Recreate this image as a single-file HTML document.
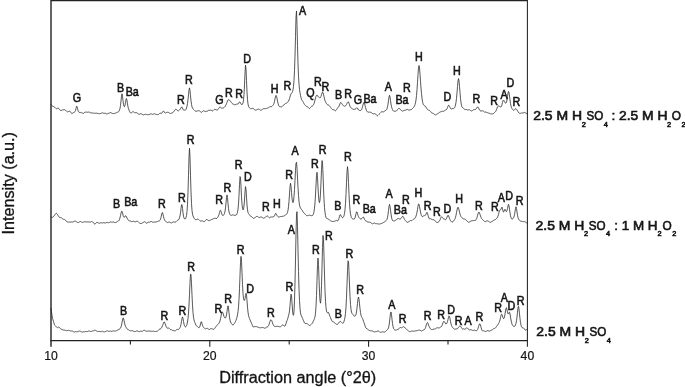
<!DOCTYPE html>
<html lang="en"><head><meta charset="utf-8"><title>XRD patterns</title>
<style>
html,body{margin:0;padding:0;background:#fff;}
body{width:685px;height:387px;overflow:hidden;}
svg{display:block;}
text{font-family:"Liberation Sans",Arial,Helvetica,sans-serif;fill:#141414;stroke:#141414;stroke-width:0.6;}
.pk{font-size:12.5px;text-anchor:middle;}
.tk{font-size:12.2px;text-anchor:middle;stroke-width:0.2;}
.ax{font-size:15.8px;stroke-width:0.3;}
.lg{font-size:12.7px;}
.sub{font-size:7.4px;}
.cv{fill:none;stroke:#2c2c2c;stroke-width:0.8;stroke-linejoin:round;stroke-linecap:round;}
.fr{fill:none;stroke:#222;stroke-width:1.4;}
</style></head><body>
<svg width="685" height="387" viewBox="0 0 685 387">
<rect x="0" y="0" width="685" height="387" fill="#fff"/>
<path class="cv" d="M51.0,104.67 L51.5,105.28 L52.0,105.82 L52.5,106.08 L53.0,106.21 L53.5,106.44 L54.0,106.79 L54.5,107.15 L55.0,107.57 L55.5,108.08 L56.0,108.57 L56.5,108.75 L57.0,108.59 L57.5,108.30 L58.0,108.14 L58.5,108.27 L59.0,108.76 L59.5,109.44 L60.0,110.04 L60.5,110.39 L61.0,110.58 L61.5,110.39 L62.0,110.16 L62.5,109.93 L63.0,109.81 L63.5,109.78 L64.0,109.73 L64.5,109.68 L65.0,109.79 L65.5,110.17 L66.0,110.69 L66.5,111.23 L67.0,111.70 L67.5,111.88 L68.0,111.80 L68.5,111.54 L69.0,111.26 L69.5,111.13 L70.0,111.30 L70.5,111.86 L71.0,112.63 L71.5,113.30 L72.0,113.41 L72.5,113.24 L73.0,112.93 L73.5,112.59 L74.0,112.33 L74.5,112.09 L75.0,111.64 L75.5,110.50 L76.0,108.49 L76.5,106.43 L77.0,106.30 L77.5,108.37 L78.0,110.52 L78.5,111.82 L79.0,112.33 L79.5,112.40 L80.0,112.38 L80.5,112.44 L81.0,112.60 L81.5,112.78 L82.0,112.97 L82.5,113.15 L83.0,113.32 L83.5,113.32 L84.0,113.00 L84.5,112.51 L85.0,112.22 L85.5,112.04 L86.0,112.11 L86.5,112.20 L87.0,112.24 L87.5,112.23 L88.0,112.18 L88.5,112.09 L89.0,111.97 L89.5,112.23 L90.0,112.58 L90.5,112.86 L91.0,112.87 L91.5,112.76 L92.0,112.84 L92.5,113.09 L93.0,113.25 L93.5,113.19 L94.0,113.07 L94.5,113.11 L95.0,113.26 L95.5,113.27 L96.0,113.21 L96.5,113.17 L97.0,113.23 L97.5,113.34 L98.0,113.49 L98.5,113.64 L99.0,113.72 L99.5,113.69 L100.0,113.61 L100.5,113.51 L101.0,113.34 L101.5,113.08 L102.0,112.85 L102.5,112.81 L103.0,113.01 L103.5,113.24 L104.0,113.32 L104.5,113.25 L105.0,113.18 L105.5,113.31 L106.0,113.64 L106.5,113.92 L107.0,113.93 L107.5,113.70 L108.0,113.45 L108.5,113.29 L109.0,113.18 L109.5,113.02 L110.0,112.75 L110.5,112.56 L111.0,112.65 L111.5,112.98 L112.0,113.32 L112.5,113.49 L113.0,113.51 L113.5,113.49 L114.0,113.47 L114.5,113.43 L115.0,113.34 L115.5,113.15 L116.0,112.90 L116.5,112.64 L117.0,112.42 L117.5,112.24 L118.0,112.04 L118.5,111.70 L119.0,111.12 L119.5,110.15 L120.0,108.40 L120.5,105.37 L121.0,100.94 L121.5,96.13 L122.0,93.81 L122.5,96.09 L123.0,100.61 L123.5,104.37 L124.0,106.37 L124.5,106.59 L125.0,105.18 L125.5,102.46 L126.0,99.45 L126.5,98.43 L127.0,100.54 L127.5,103.89 L128.0,106.74 L128.5,108.72 L129.0,110.14 L129.5,111.30 L130.0,112.25 L130.5,112.86 L131.0,113.04 L131.5,112.80 L132.0,112.38 L132.5,111.93 L133.0,111.69 L133.5,111.79 L134.0,112.17 L134.5,112.60 L135.0,112.80 L135.5,112.73 L136.0,112.60 L136.5,112.64 L137.0,112.93 L137.5,113.31 L138.0,113.69 L138.5,114.04 L139.0,114.29 L139.5,114.29 L140.0,114.03 L140.5,113.78 L141.0,113.73 L141.5,113.89 L142.0,114.18 L142.5,114.54 L143.0,114.84 L143.5,114.94 L144.0,114.81 L144.5,114.53 L145.0,114.26 L145.5,114.18 L146.0,114.32 L146.5,114.56 L147.0,114.72 L147.5,114.73 L148.0,114.65 L148.5,114.57 L149.0,114.50 L149.5,114.37 L150.0,114.17 L150.5,113.96 L151.0,113.85 L151.5,113.92 L152.0,114.14 L152.5,114.35 L153.0,114.32 L153.5,114.04 L154.0,113.76 L154.5,113.76 L155.0,113.96 L155.5,114.21 L156.0,114.35 L156.5,114.41 L157.0,114.50 L157.5,114.66 L158.0,114.70 L158.5,114.43 L159.0,113.94 L159.5,113.46 L160.0,113.17 L160.5,113.16 L161.0,113.35 L161.5,113.41 L162.0,113.00 L162.5,112.14 L163.0,111.25 L163.5,111.00 L164.0,111.61 L164.5,112.46 L165.0,112.99 L165.5,113.07 L166.0,112.80 L166.5,112.44 L167.0,112.26 L167.5,112.27 L168.0,112.32 L168.5,112.42 L169.0,112.67 L169.5,113.08 L170.0,113.44 L170.5,113.53 L171.0,113.37 L171.5,113.14 L172.0,112.95 L172.5,112.78 L173.0,112.50 L173.5,112.01 L174.0,111.34 L174.5,110.59 L175.0,109.85 L175.5,109.28 L176.0,109.12 L176.5,109.48 L177.0,110.10 L177.5,110.63 L178.0,110.89 L178.5,110.83 L179.0,110.51 L179.5,110.03 L180.0,109.46 L180.5,108.76 L181.0,107.87 L181.5,107.06 L182.0,107.09 L182.5,108.11 L183.0,109.36 L183.5,110.13 L184.0,110.31 L184.5,110.23 L185.0,110.17 L185.5,110.02 L186.0,109.39 L186.5,108.14 L187.0,106.25 L187.5,103.54 L188.0,99.69 L188.5,94.77 L189.0,89.90 L189.5,87.87 L190.0,90.64 L190.5,95.86 L191.0,100.72 L191.5,104.34 L192.0,106.79 L192.5,108.22 L193.0,108.91 L193.5,109.31 L194.0,109.76 L194.5,110.31 L195.0,110.84 L195.5,111.21 L196.0,111.34 L196.5,111.24 L197.0,111.07 L197.5,110.89 L198.0,110.74 L198.5,110.66 L199.0,110.71 L199.5,110.92 L200.0,111.32 L200.5,111.72 L201.0,112.13 L201.5,112.29 L202.0,112.07 L202.5,111.51 L203.0,110.89 L203.5,110.62 L204.0,110.80 L204.5,111.24 L205.0,111.54 L205.5,111.57 L206.0,111.42 L206.5,111.28 L207.0,111.23 L207.5,111.08 L208.0,110.70 L208.5,110.32 L209.0,110.22 L209.5,110.30 L210.0,110.33 L210.5,110.24 L211.0,110.17 L211.5,110.34 L212.0,110.73 L212.5,110.97 L213.0,110.75 L213.5,110.17 L214.0,109.61 L214.5,109.36 L215.0,109.41 L215.5,109.60 L216.0,109.77 L216.5,109.93 L217.0,110.03 L217.5,109.93 L218.0,109.49 L218.5,108.75 L219.0,107.94 L219.5,107.31 L220.0,107.02 L220.5,107.16 L221.0,107.64 L221.5,108.06 L222.0,108.20 L222.5,108.19 L223.0,108.07 L223.5,107.86 L224.0,107.55 L224.5,107.14 L225.0,106.58 L225.5,105.82 L226.0,104.85 L226.5,103.65 L227.0,102.28 L227.5,100.96 L228.0,100.00 L228.5,99.63 L229.0,99.77 L229.5,100.17 L230.0,100.66 L230.5,101.27 L231.0,102.02 L231.5,102.75 L232.0,103.32 L232.5,103.73 L233.0,104.03 L233.5,104.32 L234.0,104.61 L234.5,104.77 L235.0,104.75 L235.5,104.56 L236.0,104.40 L236.5,104.19 L237.0,104.03 L237.5,104.05 L238.0,104.04 L238.5,103.63 L239.0,102.72 L239.5,101.95 L240.0,102.09 L240.5,102.96 L241.0,103.94 L241.5,104.61 L242.0,104.68 L242.5,104.18 L243.0,102.94 L243.5,100.17 L244.0,94.48 L244.5,84.96 L245.0,73.03 L245.5,65.12 L246.0,69.00 L246.5,80.68 L247.0,91.92 L247.5,99.67 L248.0,104.03 L248.5,106.17 L249.0,107.21 L249.5,107.85 L250.0,108.29 L250.5,108.63 L251.0,108.77 L251.5,108.64 L252.0,108.41 L252.5,108.29 L253.0,108.34 L253.5,108.60 L254.0,109.10 L254.5,109.69 L255.0,110.08 L255.5,110.19 L256.0,110.11 L256.5,109.89 L257.0,109.63 L257.5,109.44 L258.0,109.29 L258.5,109.12 L259.0,109.11 L259.5,109.38 L260.0,109.83 L260.5,110.16 L261.0,110.21 L261.5,110.02 L262.0,109.69 L262.5,109.27 L263.0,108.88 L263.5,108.66 L264.0,108.62 L264.5,108.65 L265.0,108.68 L265.5,108.64 L266.0,108.51 L266.5,108.35 L267.0,108.20 L267.5,108.09 L268.0,107.95 L268.5,107.73 L269.0,107.37 L269.5,106.95 L270.0,106.64 L270.5,106.58 L271.0,106.68 L271.5,106.67 L272.0,106.37 L272.5,105.85 L273.0,105.24 L273.5,104.49 L274.0,103.30 L274.5,101.37 L275.0,98.85 L275.5,96.49 L276.0,95.38 L276.5,96.15 L277.0,98.30 L277.5,100.92 L278.0,103.33 L278.5,105.12 L279.0,106.16 L279.5,106.62 L280.0,106.87 L280.5,106.77 L281.0,106.80 L281.5,106.83 L282.0,106.65 L282.5,106.16 L283.0,105.55 L283.5,105.08 L284.0,104.78 L284.5,104.43 L285.0,103.97 L285.5,103.51 L286.0,103.24 L286.5,103.12 L287.0,102.82 L287.5,102.36 L288.0,101.79 L288.5,101.07 L289.0,100.00 L289.5,98.53 L290.0,96.82 L290.5,95.19 L291.0,93.98 L291.5,93.27 L292.0,92.70 L292.5,91.74 L293.0,89.81 L293.5,86.24 L294.0,80.24 L294.5,70.68 L295.0,56.24 L295.5,36.64 L296.0,17.02 L296.5,10.95 L297.0,24.58 L297.5,45.79 L298.0,63.77 L298.5,76.21 L299.0,84.18 L299.5,89.24 L300.0,92.74 L300.5,95.48 L301.0,97.65 L301.5,99.26 L302.0,100.36 L302.5,101.08 L303.0,101.69 L303.5,102.53 L304.0,103.65 L304.5,104.60 L305.0,105.16 L305.5,105.54 L306.0,105.97 L306.5,106.41 L307.0,106.69 L307.5,106.84 L308.0,107.11 L308.5,107.65 L309.0,108.35 L309.5,108.59 L310.0,108.21 L310.5,107.52 L311.0,106.85 L311.5,106.40 L312.0,106.14 L312.5,105.87 L313.0,105.46 L313.5,104.74 L314.0,103.59 L314.5,101.96 L315.0,100.02 L315.5,98.08 L316.0,96.42 L316.5,95.32 L317.0,95.05 L317.5,95.56 L318.0,96.36 L318.5,97.00 L319.0,97.40 L319.5,97.67 L320.0,97.90 L320.5,97.54 L321.0,96.45 L321.5,94.85 L322.0,93.16 L322.5,92.09 L323.0,92.43 L323.5,94.20 L324.0,96.59 L324.5,98.88 L325.0,100.63 L325.5,101.80 L326.0,102.71 L326.5,103.59 L327.0,104.34 L327.5,104.73 L328.0,104.79 L328.5,105.03 L329.0,105.41 L329.5,105.99 L330.0,106.61 L330.5,107.25 L331.0,107.94 L331.5,108.62 L332.0,109.16 L332.5,109.53 L333.0,109.86 L333.5,109.68 L334.0,109.80 L334.5,110.22 L335.0,110.68 L335.5,110.76 L336.0,110.35 L336.5,109.65 L337.0,108.88 L337.5,108.17 L338.0,107.54 L338.5,106.95 L339.0,106.19 L339.5,105.04 L340.0,103.65 L340.5,102.64 L341.0,102.52 L341.5,103.13 L342.0,103.93 L342.5,104.63 L343.0,105.26 L343.5,105.82 L344.0,106.16 L344.5,106.26 L345.0,106.11 L345.5,105.77 L346.0,105.25 L346.5,104.46 L347.0,103.39 L347.5,102.35 L348.0,101.76 L348.5,102.06 L349.0,103.23 L349.5,104.83 L350.0,106.31 L350.5,107.34 L351.0,107.88 L351.5,108.17 L352.0,108.47 L352.5,108.86 L353.0,109.22 L353.5,109.40 L354.0,109.38 L354.5,109.30 L355.0,109.21 L355.5,109.01 L356.0,108.53 L356.5,107.89 L357.0,107.60 L357.5,108.09 L358.0,109.08 L358.5,109.96 L359.0,110.40 L359.5,110.44 L360.0,110.42 L360.5,110.50 L361.0,110.39 L361.5,109.77 L362.0,108.51 L362.5,106.77 L363.0,104.79 L363.5,102.99 L364.0,102.30 L364.5,103.31 L365.0,105.31 L365.5,107.37 L366.0,109.14 L366.5,110.50 L367.0,111.39 L367.5,111.91 L368.0,112.13 L368.5,112.19 L369.0,112.12 L369.5,112.08 L370.0,112.12 L370.5,112.24 L371.0,112.44 L371.5,112.74 L372.0,113.12 L372.5,113.48 L373.0,113.72 L373.5,113.79 L374.0,113.74 L374.5,113.64 L375.0,113.66 L375.5,113.93 L376.0,114.43 L376.5,115.04 L377.0,115.61 L377.5,115.83 L378.0,115.44 L378.5,114.88 L379.0,114.34 L379.5,113.85 L380.0,113.36 L380.5,112.83 L381.0,112.23 L381.5,111.74 L382.0,111.59 L382.5,111.72 L383.0,111.88 L383.5,111.88 L384.0,111.64 L384.5,111.19 L385.0,110.79 L385.5,110.51 L386.0,110.29 L386.5,109.77 L387.0,108.59 L387.5,106.71 L388.0,104.13 L388.5,100.72 L389.0,97.06 L389.5,95.24 L390.0,96.94 L390.5,100.61 L391.0,104.08 L391.5,106.61 L392.0,108.37 L392.5,109.65 L393.0,110.55 L393.5,111.07 L394.0,111.28 L394.5,111.31 L395.0,111.26 L395.5,111.20 L396.0,111.10 L396.5,110.84 L397.0,110.32 L397.5,109.62 L398.0,108.94 L398.5,108.47 L399.0,108.36 L399.5,108.59 L400.0,109.02 L400.5,109.56 L401.0,110.14 L401.5,110.64 L402.0,110.96 L402.5,111.07 L403.0,110.95 L403.5,110.68 L404.0,110.46 L404.5,110.37 L405.0,110.30 L405.5,110.18 L406.0,109.96 L406.5,109.65 L407.0,109.42 L407.5,109.43 L408.0,109.69 L408.5,109.98 L409.0,110.10 L409.5,110.03 L410.0,109.88 L410.5,109.79 L411.0,109.74 L411.5,109.53 L412.0,109.02 L412.5,108.41 L413.0,107.92 L413.5,107.48 L414.0,106.84 L414.5,105.91 L415.0,104.63 L415.5,102.77 L416.0,99.94 L416.5,95.64 L417.0,89.65 L417.5,82.26 L418.0,74.41 L418.5,67.99 L419.0,65.46 L419.5,67.98 L420.0,74.09 L420.5,81.31 L421.0,88.02 L421.5,93.65 L422.0,98.15 L422.5,101.49 L423.0,103.66 L423.5,104.85 L424.0,105.44 L424.5,105.79 L425.0,106.01 L425.5,106.38 L426.0,107.14 L426.5,108.02 L427.0,108.83 L427.5,109.42 L428.0,109.84 L428.5,110.13 L429.0,110.33 L429.5,110.51 L430.0,110.82 L430.5,111.38 L431.0,112.10 L431.5,112.73 L432.0,113.05 L432.5,113.16 L433.0,113.28 L433.5,113.55 L434.0,113.95 L434.5,114.41 L435.0,114.81 L435.5,114.91 L436.0,114.66 L436.5,114.40 L437.0,114.10 L437.5,113.78 L438.0,113.48 L438.5,113.17 L439.0,112.77 L439.5,112.37 L440.0,112.09 L440.5,111.88 L441.0,111.64 L441.5,111.40 L442.0,111.23 L442.5,111.19 L443.0,111.29 L443.5,111.38 L444.0,111.16 L444.5,110.70 L445.0,110.27 L445.5,110.04 L446.0,109.89 L446.5,109.52 L447.0,108.74 L447.5,107.56 L448.0,106.20 L448.5,105.26 L449.0,105.35 L449.5,106.26 L450.0,107.43 L450.5,108.46 L451.0,109.03 L451.5,108.98 L452.0,108.61 L452.5,108.45 L453.0,108.57 L453.5,108.66 L454.0,108.42 L454.5,107.78 L455.0,106.71 L455.5,105.03 L456.0,102.37 L456.5,98.36 L457.0,92.94 L457.5,86.64 L458.0,81.00 L458.5,78.58 L459.0,80.86 L459.5,86.35 L460.0,92.68 L460.5,98.37 L461.0,102.69 L461.5,105.45 L462.0,106.95 L462.5,107.66 L463.0,108.05 L463.5,108.41 L464.0,108.83 L464.5,109.23 L465.0,109.51 L465.5,109.57 L466.0,109.49 L466.5,109.52 L467.0,109.77 L467.5,110.01 L468.0,110.03 L468.5,109.84 L469.0,109.67 L469.5,109.71 L470.0,110.02 L470.5,110.48 L471.0,110.85 L471.5,110.99 L472.0,110.91 L472.5,110.57 L473.0,110.06 L473.5,109.66 L474.0,109.58 L474.5,109.65 L475.0,109.60 L475.5,109.38 L476.0,109.00 L476.5,108.38 L477.0,107.58 L477.5,107.01 L478.0,107.10 L478.5,107.87 L479.0,108.92 L479.5,109.88 L480.0,110.56 L480.5,110.94 L481.0,111.03 L481.5,110.91 L482.0,110.74 L482.5,110.71 L483.0,110.89 L483.5,111.25 L484.0,111.74 L484.5,112.05 L485.0,112.09 L485.5,112.05 L486.0,112.14 L486.5,112.32 L487.0,112.49 L487.5,112.65 L488.0,112.87 L488.5,113.10 L489.0,113.23 L489.5,113.30 L490.0,113.50 L490.5,113.81 L491.0,113.92 L491.5,113.93 L492.0,113.92 L492.5,113.93 L493.0,113.85 L493.5,113.54 L494.0,113.06 L494.5,112.61 L495.0,112.21 L495.5,111.68 L496.0,110.81 L496.5,109.53 L497.0,108.18 L497.5,107.06 L498.0,106.24 L498.5,105.83 L499.0,105.95 L499.5,106.37 L500.0,106.78 L500.5,107.03 L501.0,106.90 L501.5,106.13 L502.0,104.60 L502.5,102.48 L503.0,100.55 L503.5,99.99 L504.0,100.74 L504.5,101.80 L505.0,102.67 L505.5,103.10 L506.0,103.00 L506.5,102.03 L507.0,99.64 L507.5,96.31 L508.0,93.03 L508.5,91.38 L509.0,92.63 L509.5,96.01 L510.0,99.89 L510.5,103.37 L511.0,106.03 L511.5,107.74 L512.0,108.70 L512.5,109.33 L513.0,109.93 L513.5,110.34 L514.0,110.28 L514.5,109.84 L515.0,109.23 L515.5,108.76 L516.0,108.72 L516.5,109.22 L517.0,109.99 L517.5,110.83 L518.0,111.67 L518.5,112.42 L519.0,112.99 L519.5,113.28 L520.0,113.36 L520.5,113.34 L521.0,113.23 L521.5,113.05 L522.0,112.94 L522.5,112.93 L523.0,112.93 L523.5,112.81 L524.0,112.57 L524.5,112.39 L525.0,112.50 L525.5,112.86 L526.0,113.24 L526.5,113.47 L527.0,113.64 L527.5,113.83"/>
<path class="cv" d="M51.0,216.95 L51.5,217.13 L52.0,217.32 L52.5,217.36 L53.0,217.14 L53.5,216.67 L54.0,216.03 L54.5,215.29 L55.0,214.52 L55.5,213.83 L56.0,213.38 L56.5,213.34 L57.0,213.78 L57.5,214.56 L58.0,215.45 L58.5,216.29 L59.0,216.95 L59.5,217.35 L60.0,217.54 L60.5,217.61 L61.0,217.60 L61.5,217.86 L62.0,218.26 L62.5,218.74 L63.0,219.11 L63.5,219.31 L64.0,219.41 L64.5,219.47 L65.0,219.66 L65.5,220.14 L66.0,220.82 L66.5,221.45 L67.0,221.85 L67.5,222.01 L68.0,222.08 L68.5,222.11 L69.0,222.09 L69.5,222.04 L70.0,222.03 L70.5,222.06 L71.0,221.95 L71.5,221.93 L72.0,221.97 L72.5,222.00 L73.0,221.92 L73.5,221.69 L74.0,221.43 L74.5,221.18 L75.0,220.97 L75.5,221.13 L76.0,221.44 L76.5,221.80 L77.0,222.13 L77.5,222.42 L78.0,222.59 L78.5,222.54 L79.0,222.23 L79.5,221.80 L80.0,221.51 L80.5,221.51 L81.0,221.76 L81.5,222.08 L82.0,222.38 L82.5,222.43 L83.0,222.21 L83.5,221.96 L84.0,221.89 L84.5,221.88 L85.0,221.83 L85.5,221.77 L86.0,221.81 L86.5,221.91 L87.0,221.97 L87.5,221.95 L88.0,221.94 L88.5,221.95 L89.0,221.96 L89.5,221.98 L90.0,222.07 L90.5,222.08 L91.0,221.87 L91.5,221.54 L92.0,221.52 L92.5,221.81 L93.0,222.34 L93.5,222.96 L94.0,223.61 L94.5,223.96 L95.0,224.04 L95.5,223.70 L96.0,223.06 L96.5,222.46 L97.0,222.26 L97.5,222.49 L98.0,222.86 L98.5,223.12 L99.0,223.21 L99.5,223.17 L100.0,223.01 L100.5,222.82 L101.0,222.71 L101.5,222.82 L102.0,223.01 L102.5,223.02 L103.0,222.83 L103.5,222.65 L104.0,222.69 L104.5,222.89 L105.0,223.03 L105.5,222.96 L106.0,222.77 L106.5,222.60 L107.0,222.49 L107.5,222.48 L108.0,222.63 L108.5,222.79 L109.0,222.73 L109.5,222.42 L110.0,222.04 L110.5,221.89 L111.0,221.97 L111.5,222.16 L112.0,222.23 L112.5,222.10 L113.0,221.96 L113.5,222.01 L114.0,222.21 L114.5,222.40 L115.0,222.52 L115.5,222.55 L116.0,222.42 L116.5,222.12 L117.0,221.80 L117.5,221.39 L118.0,221.19 L118.5,221.01 L119.0,220.49 L119.5,219.39 L120.0,217.72 L120.5,215.65 L121.0,213.37 L121.5,211.50 L122.0,211.23 L122.5,212.80 L123.0,214.99 L123.5,216.68 L124.0,217.31 L124.5,217.19 L125.0,216.44 L125.5,215.76 L126.0,215.96 L126.5,216.95 L127.0,218.03 L127.5,218.95 L128.0,219.73 L128.5,220.36 L129.0,220.74 L129.5,220.89 L130.0,220.98 L130.5,221.06 L131.0,221.32 L131.5,221.61 L132.0,221.73 L132.5,221.59 L133.0,221.32 L133.5,221.15 L134.0,221.29 L134.5,221.64 L135.0,221.86 L135.5,221.80 L136.0,221.58 L136.5,221.35 L137.0,221.22 L137.5,221.32 L138.0,221.69 L138.5,222.19 L139.0,222.67 L139.5,223.05 L140.0,223.32 L140.5,223.53 L141.0,223.61 L141.5,223.41 L142.0,223.07 L142.5,222.81 L143.0,222.58 L143.5,222.24 L144.0,221.88 L144.5,221.69 L145.0,221.79 L145.5,222.21 L146.0,222.80 L146.5,223.21 L147.0,223.17 L147.5,222.73 L148.0,222.30 L148.5,222.16 L149.0,222.21 L149.5,222.19 L150.0,222.00 L150.5,221.73 L151.0,221.55 L151.5,221.55 L152.0,221.79 L152.5,222.14 L153.0,222.34 L153.5,222.26 L154.0,222.08 L154.5,222.03 L155.0,222.08 L155.5,222.07 L156.0,221.96 L156.5,221.85 L157.0,221.75 L157.5,221.57 L158.0,221.30 L158.5,221.06 L159.0,220.92 L159.5,220.77 L160.0,220.33 L160.5,219.28 L161.0,217.44 L161.5,214.96 L162.0,212.86 L162.5,212.63 L163.0,214.26 L163.5,216.48 L164.0,218.43 L164.5,219.84 L165.0,220.73 L165.5,221.27 L166.0,221.64 L166.5,221.95 L167.0,222.29 L167.5,222.55 L168.0,222.52 L168.5,222.23 L169.0,221.97 L169.5,221.99 L170.0,222.27 L170.5,222.65 L171.0,222.91 L171.5,222.93 L172.0,222.67 L172.5,222.28 L173.0,221.99 L173.5,221.93 L174.0,221.99 L174.5,222.08 L175.0,222.16 L175.5,222.13 L176.0,221.84 L176.5,221.30 L177.0,220.74 L177.5,220.40 L178.0,220.21 L178.5,219.82 L179.0,219.03 L179.5,217.88 L180.0,215.95 L180.5,212.86 L181.0,208.67 L181.5,204.82 L182.0,204.55 L182.5,208.36 L183.0,212.88 L183.5,216.18 L184.0,218.04 L184.5,218.86 L185.0,219.09 L185.5,218.75 L186.0,217.63 L186.5,215.47 L187.0,211.50 L187.5,204.30 L188.0,192.31 L188.5,175.29 L189.0,157.04 L189.5,148.24 L190.0,157.08 L190.5,175.19 L191.0,191.93 L191.5,203.60 L192.0,210.41 L192.5,213.96 L193.0,215.86 L193.5,217.08 L194.0,218.00 L194.5,218.80 L195.0,219.43 L195.5,219.76 L196.0,219.76 L196.5,219.57 L197.0,219.33 L197.5,219.17 L198.0,219.19 L198.5,219.40 L199.0,219.79 L199.5,220.31 L200.0,220.82 L200.5,221.16 L201.0,221.10 L201.5,220.83 L202.0,220.70 L202.5,220.86 L203.0,221.20 L203.5,221.56 L204.0,221.77 L204.5,221.55 L205.0,221.04 L205.5,220.35 L206.0,219.74 L206.5,219.49 L207.0,219.58 L207.5,219.86 L208.0,220.22 L208.5,220.53 L209.0,220.68 L209.5,220.64 L210.0,220.44 L210.5,220.12 L211.0,219.74 L211.5,219.43 L212.0,219.30 L212.5,219.23 L213.0,219.02 L213.5,218.67 L214.0,218.40 L214.5,218.28 L215.0,218.26 L215.5,218.32 L216.0,218.45 L216.5,218.48 L217.0,218.22 L217.5,217.65 L218.0,216.85 L218.5,215.83 L219.0,214.39 L219.5,212.49 L220.0,210.71 L220.5,210.26 L221.0,211.48 L221.5,213.19 L222.0,214.55 L222.5,215.35 L223.0,215.55 L223.5,215.26 L224.0,214.56 L224.5,213.35 L225.0,211.31 L225.5,207.94 L226.0,202.99 L226.5,197.53 L227.0,194.93 L227.5,197.78 L228.0,203.44 L228.5,208.52 L229.0,211.84 L229.5,213.63 L230.0,214.59 L230.5,215.16 L231.0,215.43 L231.5,215.39 L232.0,215.08 L232.5,214.83 L233.0,214.83 L233.5,215.04 L234.0,215.26 L234.5,215.33 L235.0,215.30 L235.5,215.28 L236.0,215.15 L236.5,214.72 L237.0,213.82 L237.5,212.21 L238.0,209.21 L238.5,203.83 L239.0,195.35 L239.5,184.71 L240.0,176.51 L240.5,177.58 L241.0,186.71 L241.5,196.76 L242.0,204.11 L242.5,208.31 L243.0,209.93 L243.5,209.27 L244.0,206.06 L244.5,200.01 L245.0,192.05 L245.5,186.59 L246.0,189.21 L246.5,197.22 L247.0,204.85 L247.5,209.87 L248.0,212.46 L248.5,213.60 L249.0,214.22 L249.5,214.81 L250.0,215.58 L250.5,216.17 L251.0,216.43 L251.5,216.60 L252.0,216.94 L252.5,217.46 L253.0,218.01 L253.5,218.41 L254.0,218.51 L254.5,218.17 L255.0,217.57 L255.5,217.07 L256.0,216.75 L256.5,216.50 L257.0,216.34 L257.5,216.42 L258.0,216.76 L258.5,217.21 L259.0,217.54 L259.5,217.60 L260.0,217.35 L260.5,217.06 L261.0,216.93 L261.5,217.04 L262.0,217.28 L262.5,217.60 L263.0,217.97 L263.5,218.20 L264.0,218.13 L264.5,217.81 L265.0,217.44 L265.5,217.12 L266.0,216.77 L266.5,216.33 L267.0,215.97 L267.5,215.95 L268.0,216.37 L268.5,217.06 L269.0,217.64 L269.5,217.79 L270.0,217.54 L270.5,217.17 L271.0,216.95 L271.5,216.97 L272.0,217.07 L272.5,217.03 L273.0,216.86 L273.5,216.74 L274.0,216.60 L274.5,216.03 L275.0,214.81 L275.5,213.54 L276.0,213.47 L276.5,214.44 L277.0,215.41 L277.5,216.13 L278.0,216.72 L278.5,217.11 L279.0,217.13 L279.5,216.89 L280.0,216.68 L280.5,216.55 L281.0,216.54 L281.5,216.51 L282.0,216.43 L282.5,216.31 L283.0,216.23 L283.5,216.17 L284.0,216.01 L284.5,215.66 L285.0,215.25 L285.5,214.88 L286.0,214.59 L286.5,214.25 L287.0,213.60 L287.5,212.39 L288.0,210.27 L288.5,206.74 L289.0,201.29 L289.5,194.07 L290.0,186.74 L290.5,183.22 L291.0,186.15 L291.5,192.48 L292.0,198.20 L292.5,201.71 L293.0,202.69 L293.5,201.02 L294.0,196.55 L294.5,189.39 L295.0,180.14 L295.5,170.37 L296.0,163.19 L296.5,162.34 L297.0,168.36 L297.5,177.85 L298.0,187.43 L298.5,195.44 L299.0,201.25 L299.5,204.90 L300.0,206.91 L300.5,208.01 L301.0,208.79 L301.5,209.46 L302.0,210.01 L302.5,210.92 L303.0,211.82 L303.5,212.50 L304.0,212.94 L304.5,213.32 L305.0,213.88 L305.5,214.58 L306.0,215.17 L306.5,215.59 L307.0,215.77 L307.5,215.68 L308.0,215.55 L308.5,215.34 L309.0,215.16 L309.5,215.14 L310.0,215.29 L310.5,215.46 L311.0,215.59 L311.5,215.65 L312.0,215.72 L312.5,215.50 L313.0,214.88 L313.5,213.70 L314.0,211.63 L314.5,208.17 L315.0,202.79 L315.5,194.99 L316.0,185.06 L316.5,175.60 L317.0,172.30 L317.5,177.72 L318.0,187.18 L318.5,195.74 L319.0,201.19 L319.5,202.73 L320.0,200.08 L320.5,193.11 L321.0,182.30 L321.5,169.62 L322.0,160.56 L322.5,162.32 L323.0,174.00 L323.5,188.07 L324.0,199.67 L324.5,207.57 L325.0,212.47 L325.5,215.53 L326.0,217.45 L326.5,218.29 L327.0,218.56 L327.5,218.73 L328.0,219.00 L328.5,219.26 L329.0,219.51 L329.5,219.87 L330.0,220.33 L330.5,220.71 L331.0,220.99 L331.5,221.21 L332.0,221.37 L332.5,221.48 L333.0,221.50 L333.5,221.45 L334.0,221.35 L334.5,221.24 L335.0,221.08 L335.5,220.82 L336.0,220.52 L336.5,220.43 L337.0,220.60 L337.5,220.81 L338.0,220.65 L338.5,219.84 L339.0,218.31 L339.5,216.38 L340.0,214.86 L340.5,214.72 L341.0,215.72 L341.5,216.80 L342.0,217.44 L342.5,217.66 L343.0,217.47 L343.5,216.85 L344.0,215.68 L344.5,213.56 L345.0,209.76 L345.5,203.49 L346.0,194.33 L346.5,182.84 L347.0,171.73 L347.5,166.65 L348.0,171.53 L348.5,182.66 L349.0,194.27 L349.5,203.47 L350.0,209.80 L350.5,213.83 L351.0,216.30 L351.5,217.75 L352.0,218.46 L352.5,218.77 L353.0,218.95 L353.5,219.12 L354.0,219.17 L354.5,218.83 L355.0,217.82 L355.5,216.05 L356.0,213.79 L356.5,211.93 L357.0,211.87 L357.5,213.57 L358.0,215.40 L358.5,216.60 L359.0,217.42 L359.5,218.10 L360.0,218.69 L360.5,218.97 L361.0,218.99 L361.5,218.82 L362.0,218.43 L362.5,217.78 L363.0,217.11 L363.5,217.09 L364.0,218.06 L364.5,219.34 L365.0,220.28 L365.5,220.74 L366.0,220.95 L366.5,221.22 L367.0,221.60 L367.5,221.92 L368.0,222.04 L368.5,222.11 L369.0,222.15 L369.5,222.15 L370.0,222.21 L370.5,222.43 L371.0,222.79 L371.5,223.20 L372.0,223.58 L372.5,223.82 L373.0,223.75 L373.5,223.37 L374.0,223.00 L374.5,222.97 L375.0,223.26 L375.5,223.59 L376.0,223.72 L376.5,223.70 L377.0,223.70 L377.5,223.78 L378.0,223.87 L378.5,224.00 L379.0,224.08 L379.5,224.06 L380.0,223.94 L380.5,223.77 L381.0,223.60 L381.5,223.45 L382.0,223.28 L382.5,223.05 L383.0,222.77 L383.5,222.48 L384.0,222.20 L384.5,221.87 L385.0,221.50 L385.5,221.11 L386.0,220.69 L386.5,220.19 L387.0,219.33 L387.5,217.60 L388.0,214.60 L388.5,210.48 L389.0,206.32 L389.5,204.43 L390.0,206.30 L390.5,210.12 L391.0,213.88 L391.5,217.01 L392.0,219.31 L392.5,220.59 L393.0,220.99 L393.5,220.96 L394.0,220.85 L394.5,220.72 L395.0,220.54 L395.5,220.33 L396.0,220.09 L396.5,219.75 L397.0,219.23 L397.5,218.63 L398.0,218.34 L398.5,218.53 L399.0,218.82 L399.5,218.97 L400.0,218.98 L400.5,218.83 L401.0,218.46 L401.5,217.79 L402.0,217.03 L402.5,216.42 L403.0,216.38 L403.5,217.19 L404.0,218.34 L404.5,219.32 L405.0,220.07 L405.5,220.72 L406.0,221.30 L406.5,221.72 L407.0,222.02 L407.5,222.32 L408.0,222.41 L408.5,222.09 L409.0,221.53 L409.5,220.95 L410.0,220.57 L410.5,220.50 L411.0,220.62 L411.5,220.69 L412.0,220.53 L412.5,220.13 L413.0,219.61 L413.5,219.16 L414.0,218.92 L414.5,218.68 L415.0,218.18 L415.5,217.31 L416.0,216.13 L416.5,214.56 L417.0,212.32 L417.5,209.34 L418.0,206.14 L418.5,204.02 L419.0,204.20 L419.5,206.39 L420.0,209.27 L420.5,211.99 L421.0,214.23 L421.5,215.76 L422.0,216.48 L422.5,216.54 L423.0,216.26 L423.5,215.91 L424.0,215.68 L424.5,215.62 L425.0,215.58 L425.5,215.17 L426.0,214.16 L426.5,212.81 L427.0,212.24 L427.5,213.31 L428.0,215.17 L428.5,216.93 L429.0,218.26 L429.5,218.89 L430.0,218.89 L430.5,218.73 L431.0,218.81 L431.5,219.17 L432.0,219.49 L432.5,219.63 L433.0,219.65 L433.5,219.65 L434.0,219.76 L434.5,220.13 L435.0,220.72 L435.5,221.32 L436.0,221.86 L436.5,222.31 L437.0,222.61 L437.5,222.46 L438.0,222.23 L438.5,221.97 L439.0,221.59 L439.5,220.90 L440.0,219.84 L440.5,218.59 L441.0,217.44 L441.5,216.78 L442.0,216.99 L442.5,217.73 L443.0,218.45 L443.5,218.87 L444.0,219.03 L444.5,219.15 L445.0,219.47 L445.5,219.72 L446.0,219.45 L446.5,218.56 L447.0,217.27 L447.5,215.93 L448.0,215.20 L448.5,215.68 L449.0,216.99 L449.5,218.42 L450.0,219.64 L450.5,220.58 L451.0,221.29 L451.5,221.81 L452.0,222.15 L452.5,222.09 L453.0,221.69 L453.5,221.05 L454.0,220.34 L454.5,219.65 L455.0,218.79 L455.5,217.39 L456.0,215.28 L456.5,212.68 L457.0,210.07 L457.5,208.04 L458.0,207.23 L458.5,207.97 L459.0,209.77 L459.5,211.98 L460.0,214.08 L460.5,215.69 L461.0,216.70 L461.5,217.31 L462.0,217.80 L462.5,218.22 L463.0,218.61 L463.5,218.84 L464.0,218.91 L464.5,219.02 L465.0,219.27 L465.5,219.59 L466.0,219.92 L466.5,220.34 L467.0,220.95 L467.5,221.59 L468.0,222.04 L468.5,222.30 L469.0,222.18 L469.5,221.98 L470.0,221.65 L470.5,221.26 L471.0,220.99 L471.5,220.88 L472.0,220.79 L472.5,220.67 L473.0,220.60 L473.5,220.58 L474.0,220.51 L474.5,220.44 L475.0,220.43 L475.5,220.29 L476.0,219.80 L476.5,218.87 L477.0,217.44 L477.5,215.63 L478.0,213.77 L478.5,212.39 L479.0,212.06 L479.5,212.95 L480.0,214.47 L480.5,215.99 L481.0,217.31 L481.5,218.37 L482.0,219.12 L482.5,219.59 L483.0,219.98 L483.5,220.42 L484.0,220.95 L484.5,221.44 L485.0,221.72 L485.5,221.64 L486.0,221.30 L486.5,220.94 L487.0,220.78 L487.5,220.85 L488.0,221.05 L488.5,221.27 L489.0,221.60 L489.5,222.06 L490.0,222.47 L490.5,222.34 L491.0,222.02 L491.5,221.66 L492.0,221.35 L492.5,221.12 L493.0,220.85 L493.5,220.43 L494.0,220.02 L494.5,219.84 L495.0,219.75 L495.5,219.46 L496.0,218.97 L496.5,218.52 L497.0,218.01 L497.5,217.23 L498.0,216.08 L498.5,214.47 L499.0,212.35 L499.5,210.36 L500.0,209.64 L500.5,209.78 L501.0,209.31 L501.5,207.88 L502.0,207.11 L502.5,208.73 L503.0,211.03 L503.5,212.09 L504.0,211.60 L504.5,210.03 L505.0,209.23 L505.5,210.27 L506.0,211.46 L506.5,211.56 L507.0,210.53 L507.5,208.46 L508.0,205.85 L508.5,204.31 L509.0,205.70 L509.5,209.22 L510.0,212.91 L510.5,215.84 L511.0,217.73 L511.5,218.75 L512.0,219.14 L512.5,218.96 L513.0,218.58 L513.5,217.89 L514.0,216.69 L514.5,214.68 L515.0,211.73 L515.5,208.39 L516.0,206.75 L516.5,208.49 L517.0,212.00 L517.5,215.22 L518.0,217.48 L518.5,218.90 L519.0,219.77 L519.5,220.37 L520.0,220.80 L520.5,221.09 L521.0,221.22 L521.5,221.21 L522.0,221.29 L522.5,221.51 L523.0,221.69 L523.5,221.68 L524.0,221.57 L524.5,221.57 L525.0,221.73 L525.5,222.03 L526.0,222.42 L526.5,222.79 L527.0,223.01 L527.5,223.10"/>
<path class="cv" d="M51.0,308.29 L51.5,311.90 L52.0,315.30 L52.5,318.43 L53.0,319.90 L53.5,321.46 L54.0,323.20 L54.5,324.99 L55.0,325.42 L55.5,325.87 L56.0,326.47 L56.5,327.09 L57.0,327.53 L57.5,327.65 L58.0,327.47 L58.5,327.12 L59.0,327.15 L59.5,327.60 L60.0,328.19 L60.5,328.69 L61.0,329.07 L61.5,329.37 L62.0,329.57 L62.5,329.69 L63.0,329.82 L63.5,329.99 L64.0,330.12 L64.5,330.16 L65.0,330.17 L65.5,330.32 L66.0,330.51 L66.5,330.68 L67.0,330.72 L67.5,330.58 L68.0,330.36 L68.5,330.24 L69.0,330.31 L69.5,330.53 L70.0,330.81 L70.5,331.01 L71.0,331.04 L71.5,330.98 L72.0,330.96 L72.5,331.07 L73.0,331.35 L73.5,331.77 L74.0,332.08 L74.5,332.06 L75.0,331.79 L75.5,331.60 L76.0,331.64 L76.5,331.77 L77.0,331.83 L77.5,331.73 L78.0,331.49 L78.5,331.23 L79.0,331.10 L79.5,331.08 L80.0,331.12 L80.5,331.26 L81.0,331.56 L81.5,331.93 L82.0,332.13 L82.5,332.03 L83.0,331.81 L83.5,331.76 L84.0,331.87 L84.5,331.87 L85.0,331.69 L85.5,331.52 L86.0,331.49 L86.5,331.57 L87.0,331.63 L87.5,331.54 L88.0,331.30 L88.5,331.04 L89.0,330.93 L89.5,331.05 L90.0,331.30 L90.5,331.50 L91.0,331.53 L91.5,331.37 L92.0,331.12 L92.5,330.95 L93.0,330.90 L93.5,330.80 L94.0,330.51 L94.5,330.23 L95.0,330.19 L95.5,330.39 L96.0,330.67 L96.5,330.93 L97.0,331.20 L97.5,331.38 L98.0,331.45 L98.5,331.48 L99.0,331.48 L99.5,331.43 L100.0,331.40 L100.5,331.49 L101.0,331.66 L101.5,331.67 L102.0,331.45 L102.5,331.25 L103.0,331.41 L103.5,331.80 L104.0,332.01 L104.5,331.91 L105.0,331.69 L105.5,331.54 L106.0,331.35 L106.5,331.08 L107.0,330.85 L107.5,330.80 L108.0,330.99 L108.5,331.29 L109.0,331.46 L109.5,331.36 L110.0,331.09 L110.5,330.97 L111.0,331.14 L111.5,331.39 L112.0,331.38 L112.5,331.12 L113.0,330.89 L113.5,330.86 L114.0,330.93 L114.5,331.01 L115.0,331.12 L115.5,331.06 L116.0,330.94 L116.5,330.72 L117.0,330.44 L117.5,330.16 L118.0,329.91 L118.5,329.65 L119.0,329.46 L119.5,329.14 L120.0,328.68 L120.5,328.00 L121.0,326.92 L121.5,325.18 L122.0,322.68 L122.5,319.88 L123.0,317.96 L123.5,318.18 L124.0,320.29 L124.5,322.87 L125.0,324.95 L125.5,326.31 L126.0,327.22 L126.5,328.06 L127.0,328.84 L127.5,329.31 L128.0,329.51 L128.5,329.70 L129.0,330.08 L129.5,330.50 L130.0,330.76 L130.5,330.85 L131.0,330.82 L131.5,330.72 L132.0,330.63 L132.5,330.69 L133.0,330.92 L133.5,331.25 L134.0,331.42 L134.5,331.53 L135.0,331.55 L135.5,331.48 L136.0,331.30 L136.5,331.03 L137.0,330.83 L137.5,330.89 L138.0,331.18 L138.5,331.51 L139.0,331.67 L139.5,331.58 L140.0,331.34 L140.5,331.18 L141.0,331.19 L141.5,331.31 L142.0,331.40 L142.5,331.25 L143.0,330.85 L143.5,330.43 L144.0,330.23 L144.5,330.30 L145.0,330.54 L145.5,330.92 L146.0,331.23 L146.5,331.28 L147.0,331.14 L147.5,331.05 L148.0,331.08 L148.5,331.10 L149.0,331.07 L149.5,331.10 L150.0,331.20 L150.5,331.24 L151.0,331.23 L151.5,331.24 L152.0,331.30 L152.5,331.27 L153.0,331.14 L153.5,331.06 L154.0,331.23 L154.5,331.55 L155.0,331.54 L155.5,331.46 L156.0,331.40 L156.5,331.37 L157.0,331.26 L157.5,331.02 L158.0,330.65 L158.5,330.16 L159.0,329.58 L159.5,329.21 L160.0,329.06 L160.5,328.92 L161.0,328.55 L161.5,327.85 L162.0,326.87 L162.5,325.68 L163.0,324.34 L163.5,322.98 L164.0,322.05 L164.5,322.15 L165.0,323.32 L165.5,324.87 L166.0,326.22 L166.5,327.27 L167.0,327.97 L167.5,328.23 L168.0,328.15 L168.5,328.03 L169.0,328.15 L169.5,328.60 L170.0,329.18 L170.5,329.53 L171.0,329.64 L171.5,329.77 L172.0,330.05 L172.5,330.38 L173.0,330.62 L173.5,330.68 L174.0,330.66 L174.5,330.70 L175.0,330.77 L175.5,330.70 L176.0,330.21 L176.5,329.74 L177.0,329.47 L177.5,329.39 L178.0,329.42 L178.5,329.38 L179.0,329.10 L179.5,328.52 L180.0,327.66 L180.5,326.37 L181.0,324.31 L181.5,321.39 L182.0,318.31 L182.5,316.92 L183.0,318.48 L183.5,321.45 L184.0,324.04 L184.5,325.75 L185.0,326.65 L185.5,326.89 L186.0,326.59 L186.5,325.68 L187.0,324.22 L187.5,322.00 L188.0,318.54 L188.5,313.10 L189.0,305.02 L189.5,294.27 L190.0,282.43 L190.5,274.06 L191.0,274.76 L191.5,283.77 L192.0,295.25 L192.5,305.22 L193.0,312.48 L193.5,317.16 L194.0,319.92 L194.5,321.61 L195.0,322.89 L195.5,324.05 L196.0,325.24 L196.5,325.92 L197.0,326.24 L197.5,326.58 L198.0,327.17 L198.5,327.71 L199.0,327.79 L199.5,327.32 L200.0,326.07 L200.5,324.04 L201.0,321.99 L201.5,321.76 L202.0,323.56 L202.5,325.44 L203.0,326.60 L203.5,327.27 L204.0,327.81 L204.5,328.32 L205.0,328.79 L205.5,328.95 L206.0,328.77 L206.5,328.45 L207.0,328.28 L207.5,328.36 L208.0,328.69 L208.5,329.12 L209.0,329.45 L209.5,329.46 L210.0,329.17 L210.5,328.81 L211.0,328.60 L211.5,328.59 L212.0,328.75 L212.5,329.03 L213.0,329.29 L213.5,329.35 L214.0,329.17 L214.5,328.64 L215.0,327.96 L215.5,327.27 L216.0,326.53 L216.5,325.82 L217.0,325.20 L217.5,324.67 L218.0,324.21 L218.5,323.79 L219.0,323.20 L219.5,322.28 L220.0,320.81 L220.5,318.77 L221.0,316.35 L221.5,313.99 L222.0,312.33 L222.5,312.07 L223.0,313.19 L223.5,314.94 L224.0,316.58 L224.5,317.64 L225.0,318.00 L225.5,317.94 L226.0,316.95 L226.5,314.83 L227.0,311.53 L227.5,307.80 L228.0,305.82 L228.5,307.94 L229.0,312.68 L229.5,317.14 L230.0,320.16 L230.5,321.91 L231.0,322.98 L231.5,323.80 L232.0,324.45 L232.5,324.81 L233.0,324.82 L233.5,324.66 L234.0,323.91 L234.5,323.21 L235.0,322.49 L235.5,321.50 L236.0,320.25 L236.5,318.83 L237.0,317.17 L237.5,314.97 L238.0,311.78 L238.5,306.92 L239.0,299.46 L239.5,288.75 L240.0,275.38 L240.5,262.50 L241.0,256.39 L241.5,261.19 L242.0,272.67 L242.5,284.45 L243.0,293.27 L243.5,298.40 L244.0,300.33 L244.5,300.24 L245.0,298.77 L245.5,295.66 L246.0,293.27 L246.5,295.06 L247.0,300.73 L247.5,307.04 L248.0,312.07 L248.5,315.34 L249.0,317.27 L249.5,318.61 L250.0,319.82 L250.5,320.96 L251.0,322.07 L251.5,323.25 L252.0,324.51 L252.5,325.76 L253.0,326.83 L253.5,326.90 L254.0,326.79 L254.5,326.66 L255.0,326.59 L255.5,326.59 L256.0,326.60 L256.5,326.62 L257.0,326.74 L257.5,326.99 L258.0,327.27 L258.5,327.44 L259.0,327.54 L259.5,327.67 L260.0,327.79 L260.5,327.84 L261.0,327.79 L261.5,327.65 L262.0,327.49 L262.5,327.40 L263.0,327.46 L263.5,327.69 L264.0,327.99 L264.5,328.18 L265.0,328.18 L265.5,327.98 L266.0,327.59 L266.5,327.20 L267.0,327.01 L267.5,326.90 L268.0,326.55 L268.5,325.76 L269.0,324.53 L269.5,322.97 L270.0,321.37 L270.5,320.11 L271.0,319.66 L271.5,320.18 L272.0,321.39 L272.5,322.87 L273.0,324.26 L273.5,325.34 L274.0,326.02 L274.5,326.38 L275.0,326.52 L275.5,326.55 L276.0,326.51 L276.5,326.40 L277.0,326.32 L277.5,326.32 L278.0,326.34 L278.5,326.33 L279.0,326.44 L279.5,326.76 L280.0,327.03 L280.5,326.89 L281.0,326.36 L281.5,325.72 L282.0,325.19 L282.5,324.92 L283.0,325.01 L283.5,325.42 L284.0,325.89 L284.5,326.14 L285.0,326.01 L285.5,325.15 L286.0,323.55 L286.5,321.92 L287.0,320.50 L287.5,319.24 L288.0,317.78 L288.5,315.54 L289.0,313.90 L289.5,310.91 L290.0,305.75 L290.5,299.05 L291.0,294.05 L291.5,295.58 L292.0,302.66 L292.5,309.98 L293.0,314.53 L293.5,315.27 L294.0,311.63 L294.5,300.14 L295.0,282.79 L295.5,259.88 L296.0,234.53 L296.5,214.86 L297.0,211.61 L297.5,226.39 L298.0,249.43 L298.5,271.53 L299.0,288.74 L299.5,300.62 L300.0,308.25 L300.5,312.84 L301.0,315.19 L301.5,315.86 L302.0,317.22 L302.5,318.32 L303.0,319.45 L303.5,320.63 L304.0,321.83 L304.5,322.94 L305.0,323.50 L305.5,323.56 L306.0,323.46 L306.5,323.42 L307.0,323.56 L307.5,323.87 L308.0,324.29 L308.5,324.78 L309.0,325.22 L309.5,325.50 L310.0,325.35 L310.5,325.00 L311.0,324.58 L311.5,324.16 L312.0,323.63 L312.5,322.86 L313.0,321.88 L313.5,320.88 L314.0,319.83 L314.5,318.53 L315.0,316.86 L315.5,313.25 L316.0,306.48 L316.5,295.44 L317.0,280.50 L317.5,265.30 L318.0,258.09 L318.5,264.57 L319.0,278.79 L319.5,292.25 L320.0,300.84 L320.5,303.17 L321.0,298.48 L321.5,285.66 L322.0,267.31 L322.5,247.51 L323.0,235.49 L323.5,239.74 L324.0,256.31 L324.5,275.12 L325.0,290.53 L325.5,301.18 L326.0,307.64 L326.5,311.08 L327.0,312.53 L327.5,312.72 L328.0,312.26 L328.5,312.41 L329.0,313.81 L329.5,315.19 L330.0,316.46 L330.5,317.68 L331.0,318.96 L331.5,320.20 L332.0,321.19 L332.5,321.59 L333.0,321.70 L333.5,321.92 L334.0,322.28 L334.5,322.72 L335.0,323.16 L335.5,323.57 L336.0,323.95 L336.5,324.31 L337.0,324.54 L337.5,324.40 L338.0,323.95 L338.5,323.30 L339.0,322.54 L339.5,321.80 L340.0,321.33 L340.5,321.45 L341.0,321.91 L341.5,322.41 L342.0,322.90 L342.5,323.26 L343.0,323.25 L343.5,322.77 L344.0,321.40 L344.5,319.66 L345.0,317.21 L345.5,313.30 L346.0,306.93 L346.5,297.31 L347.0,284.55 L347.5,270.61 L348.0,260.76 L348.5,261.44 L349.0,271.79 L349.5,285.00 L350.0,296.34 L350.5,304.37 L351.0,309.33 L351.5,312.05 L352.0,313.37 L352.5,314.05 L353.0,314.56 L353.5,315.21 L354.0,315.91 L354.5,316.18 L355.0,316.10 L355.5,315.64 L356.0,314.43 L356.5,311.99 L357.0,308.15 L357.5,303.34 L358.0,298.86 L358.5,297.01 L359.0,299.21 L359.5,303.88 L360.0,308.69 L360.5,312.50 L361.0,315.12 L361.5,316.73 L362.0,317.67 L362.5,318.27 L363.0,319.71 L363.5,321.27 L364.0,322.69 L364.5,324.07 L365.0,325.61 L365.5,327.28 L366.0,328.19 L366.5,328.49 L367.0,328.75 L367.5,329.08 L368.0,329.49 L368.5,329.90 L369.0,330.25 L369.5,330.51 L370.0,330.70 L370.5,330.80 L371.0,330.80 L371.5,330.79 L372.0,330.82 L372.5,331.00 L373.0,331.25 L373.5,331.55 L374.0,331.86 L374.5,331.97 L375.0,331.84 L375.5,331.67 L376.0,331.62 L376.5,331.60 L377.0,331.43 L377.5,331.11 L378.0,330.88 L378.5,330.99 L379.0,331.44 L379.5,331.96 L380.0,332.26 L380.5,332.34 L381.0,332.28 L381.5,332.13 L382.0,331.95 L382.5,331.81 L383.0,331.81 L383.5,331.93 L384.0,332.05 L384.5,332.02 L385.0,331.81 L385.5,331.46 L386.0,331.02 L386.5,330.51 L387.0,330.00 L387.5,329.56 L388.0,328.98 L388.5,327.81 L389.0,325.56 L389.5,321.98 L390.0,317.38 L390.5,313.18 L391.0,311.98 L391.5,314.74 L392.0,319.25 L392.5,323.38 L393.0,326.40 L393.5,328.30 L394.0,329.32 L394.5,329.80 L395.0,330.08 L395.5,330.14 L396.0,330.14 L396.5,329.95 L397.0,329.67 L397.5,329.44 L398.0,329.31 L398.5,329.11 L399.0,328.63 L399.5,327.90 L400.0,327.51 L400.5,327.49 L401.0,327.72 L401.5,327.85 L402.0,327.67 L402.5,327.28 L403.0,326.89 L403.5,326.68 L404.0,326.77 L404.5,327.18 L405.0,327.80 L405.5,328.39 L406.0,328.84 L406.5,329.27 L407.0,329.72 L407.5,330.14 L408.0,330.52 L408.5,330.96 L409.0,331.42 L409.5,331.66 L410.0,331.66 L410.5,331.48 L411.0,331.22 L411.5,331.02 L412.0,330.96 L412.5,331.06 L413.0,331.21 L413.5,331.24 L414.0,331.12 L414.5,331.01 L415.0,331.00 L415.5,330.96 L416.0,330.81 L416.5,330.69 L417.0,330.68 L417.5,330.57 L418.0,330.32 L418.5,330.12 L419.0,330.13 L419.5,330.21 L420.0,330.29 L420.5,330.50 L421.0,330.82 L421.5,330.99 L422.0,330.83 L422.5,330.49 L423.0,330.16 L423.5,329.92 L424.0,329.75 L424.5,329.51 L425.0,328.90 L425.5,327.69 L426.0,326.02 L426.5,324.30 L427.0,322.96 L427.5,322.54 L428.0,323.40 L428.5,324.95 L429.0,326.29 L429.5,327.28 L430.0,328.13 L430.5,328.87 L431.0,329.34 L431.5,329.55 L432.0,329.58 L432.5,329.49 L433.0,329.32 L433.5,329.15 L434.0,329.05 L434.5,329.00 L435.0,328.98 L435.5,328.84 L436.0,328.49 L436.5,328.07 L437.0,327.78 L437.5,327.69 L438.0,327.77 L438.5,327.94 L439.0,328.02 L439.5,327.81 L440.0,327.41 L440.5,327.08 L441.0,326.88 L441.5,326.49 L442.0,325.56 L442.5,324.17 L443.0,322.72 L443.5,321.61 L444.0,321.23 L444.5,321.73 L445.0,322.78 L445.5,323.76 L446.0,324.13 L446.5,323.81 L447.0,322.97 L447.5,321.57 L448.0,319.58 L448.5,317.30 L449.0,315.85 L449.5,316.43 L450.0,318.68 L450.5,321.39 L451.0,323.75 L451.5,325.46 L452.0,326.55 L452.5,327.32 L453.0,327.92 L453.5,328.43 L454.0,328.87 L454.5,329.18 L455.0,329.27 L455.5,329.13 L456.0,328.92 L456.5,328.88 L457.0,328.91 L457.5,328.68 L458.0,328.08 L458.5,327.27 L459.0,326.56 L459.5,326.11 L460.0,325.99 L460.5,326.23 L461.0,326.84 L461.5,327.76 L462.0,328.64 L462.5,329.08 L463.0,329.02 L463.5,328.84 L464.0,328.93 L464.5,329.15 L465.0,329.18 L465.5,328.89 L466.0,328.41 L466.5,327.98 L467.0,327.83 L467.5,328.10 L468.0,328.74 L468.5,329.44 L469.0,329.89 L469.5,329.98 L470.0,329.82 L470.5,329.69 L471.0,329.73 L471.5,329.92 L472.0,330.19 L472.5,330.40 L473.0,330.49 L473.5,330.36 L474.0,330.16 L474.5,330.14 L475.0,330.34 L475.5,330.59 L476.0,330.71 L476.5,330.66 L477.0,330.43 L477.5,329.73 L478.0,328.40 L478.5,326.74 L479.0,325.16 L479.5,324.02 L480.0,323.90 L480.5,325.15 L481.0,327.16 L481.5,329.06 L482.0,330.33 L482.5,330.88 L483.0,330.90 L483.5,330.78 L484.0,330.80 L484.5,331.08 L485.0,331.32 L485.5,331.49 L486.0,331.40 L486.5,331.11 L487.0,330.80 L487.5,330.64 L488.0,330.66 L488.5,330.85 L489.0,331.09 L489.5,331.18 L490.0,331.00 L490.5,330.65 L491.0,330.36 L491.5,330.14 L492.0,329.99 L492.5,329.71 L493.0,329.23 L493.5,328.76 L494.0,328.53 L494.5,328.46 L495.0,328.28 L495.5,327.85 L496.0,327.32 L496.5,326.58 L497.0,325.84 L497.5,325.23 L498.0,324.54 L498.5,323.58 L499.0,322.78 L499.5,321.57 L500.0,319.81 L500.5,317.65 L501.0,315.49 L501.5,314.19 L502.0,314.57 L502.5,316.15 L503.0,317.77 L503.5,318.63 L504.0,318.40 L504.5,316.87 L505.0,314.20 L505.5,310.92 L506.0,308.21 L506.5,307.75 L507.0,309.80 L507.5,312.45 L508.0,313.92 L508.5,313.68 L509.0,312.47 L509.5,312.15 L510.0,314.06 L510.5,317.10 L511.0,319.95 L511.5,322.24 L512.0,324.10 L512.5,325.23 L513.0,325.85 L513.5,326.23 L514.0,326.53 L514.5,326.44 L515.0,325.91 L515.5,324.93 L516.0,323.29 L516.5,320.72 L517.0,316.93 L517.5,312.13 L518.0,307.69 L518.5,306.27 L519.0,308.99 L519.5,313.87 L520.0,318.68 L520.5,322.48 L521.0,325.14 L521.5,326.78 L522.0,327.58 L522.5,327.76 L523.0,327.76 L523.5,327.94 L524.0,328.49 L524.5,329.27 L525.0,329.93 L525.5,330.14 L526.0,329.92 L526.5,329.62 L527.0,329.56 L527.5,329.80"/>
<g stroke="#222" fill="none" stroke-linecap="butt"><line x1="51.0" y1="0" x2="51.0" y2="346.70000000000005" stroke-width="1.4"/><line x1="50.3" y1="340.6" x2="527.925" y2="340.6" stroke-width="1.2"/><line x1="527.4" y1="0" x2="527.4" y2="346.70000000000005" stroke-width="1.05"/><line x1="51.0" y1="0.6" x2="527.4" y2="0.6" stroke-width="1.3"/><path d="M130.4,340.6 v3.8 M209.8,340.6 v6.1 M289.2,340.6 v3.8 M368.6,340.6 v6.1 M448.0,340.6 v3.8" stroke-width="1.1"/></g>
<text class="tk" x="51.0" y="360.1">10</text>
<text class="tk" x="209.8" y="360.1">20</text>
<text class="tk" x="368.6" y="360.1">30</text>
<text class="tk" x="527.4" y="360.1">40</text>
<text class="ax" x="219.2" y="382.9" textLength="157" lengthAdjust="spacingAndGlyphs">Diffraction angle (°2θ)</text>
<text class="ax" transform="translate(13.5,234.5) rotate(-90)" textLength="102.5" lengthAdjust="spacingAndGlyphs">Intensity (a.u.)</text>
<text class="lg" x="533.2" y="120.3" textLength="48.8" lengthAdjust="spacingAndGlyphs">2.5 M H</text><text class="sub" x="581.7" y="127.0">2</text><text class="lg" x="586.4" y="120.3" textLength="16.8" lengthAdjust="spacingAndGlyphs">SO</text><text class="sub" x="603.7" y="127.0">4</text><text class="lg" x="611.4" y="120.3" textLength="56.0" lengthAdjust="spacingAndGlyphs">: 2.5 M H</text><text class="sub" x="667.0" y="127.0">2</text><text class="lg" x="671.7" y="120.3" textLength="9.2" lengthAdjust="spacingAndGlyphs">O</text><text class="sub" x="681.5" y="127.0">2</text>
<text class="lg" x="535.6" y="229.5" textLength="48.8" lengthAdjust="spacingAndGlyphs">2.5 M H</text><text class="sub" x="584.1" y="236.2">2</text><text class="lg" x="588.8" y="229.5" textLength="16.8" lengthAdjust="spacingAndGlyphs">SO</text><text class="sub" x="606.1" y="236.2">4</text><text class="lg" x="614.3" y="229.5" textLength="43.2" lengthAdjust="spacingAndGlyphs">: 1 M H</text><text class="sub" x="657.5" y="236.2">2</text><text class="lg" x="662.4" y="229.5" textLength="9.2" lengthAdjust="spacingAndGlyphs">O</text><text class="sub" x="672.2" y="236.2">2</text>
<text class="lg" x="536.3" y="336.3" textLength="48.8" lengthAdjust="spacingAndGlyphs">2.5 M H</text><text class="sub" x="584.8" y="343.0">2</text><text class="lg" x="589.5" y="336.3" textLength="16.8" lengthAdjust="spacingAndGlyphs">SO</text><text class="sub" x="606.8" y="343.0">4</text>
<g class="pk">
<text transform="translate(77.0,101.5) scale(0.86,1)">G</text><text transform="translate(120.5,91.5) scale(0.86,1)">B</text><text transform="translate(132.2,95.6) scale(0.86,1)">Ba</text><text transform="translate(181.0,103.5) scale(0.86,1)">R</text><text transform="translate(189.0,84.0) scale(0.86,1)">R</text><text transform="translate(219.5,104.0) scale(0.86,1)">G</text><text transform="translate(229.0,96.5) scale(0.86,1)">R</text><text transform="translate(239.2,97.6) scale(0.86,1)">R</text><text transform="translate(247.1,62.6) scale(0.86,1)">D</text><text transform="translate(274.6,93.0) scale(0.86,1)">H</text><text transform="translate(287.5,90.0) scale(0.86,1)">R</text><text transform="translate(302.5,14.5) scale(0.86,1)">A</text><text transform="translate(310.5,96.5) scale(0.86,1)">Q</text><text transform="translate(318.0,85.5) scale(0.86,1)">R</text><text transform="translate(325.5,90.5) scale(0.86,1)">R</text><text transform="translate(338.6,98.6) scale(0.86,1)">B</text><text transform="translate(348.2,98.3) scale(0.86,1)">R</text><text transform="translate(358.0,104.4) scale(0.86,1)">G</text><text transform="translate(370.0,102.5) scale(0.86,1)">Ba</text><text transform="translate(388.4,91.0) scale(0.86,1)">A</text><text transform="translate(406.9,92.3) scale(0.86,1)">R</text><text transform="translate(402.0,104.0) scale(0.86,1)">Ba</text><text transform="translate(419.0,61.0) scale(0.86,1)">H</text><text transform="translate(447.5,100.5) scale(0.86,1)">D</text><text transform="translate(457.0,75.3) scale(0.86,1)">H</text><text transform="translate(476.5,102.5) scale(0.86,1)">R</text><text transform="translate(494.2,104.6) scale(0.86,1)">R</text><text transform="translate(504.0,99.0) scale(0.86,1)">A</text><text transform="translate(510.5,87.0) scale(0.86,1)">D</text><text transform="translate(516.5,106.0) scale(0.86,1)">R</text><text transform="translate(116.6,207.8) scale(0.86,1)">B</text><text transform="translate(130.7,206.1) scale(0.86,1)">Ba</text><text transform="translate(162.0,207.8) scale(0.86,1)">R</text><text transform="translate(182.0,201.9) scale(0.86,1)">R</text><text transform="translate(190.7,143.5) scale(0.86,1)">R</text><text transform="translate(219.2,203.6) scale(0.86,1)">R</text><text transform="translate(227.4,192.1) scale(0.86,1)">R</text><text transform="translate(238.6,168.7) scale(0.86,1)">R</text><text transform="translate(247.9,180.9) scale(0.86,1)">D</text><text transform="translate(265.9,210.8) scale(0.86,1)">R</text><text transform="translate(276.9,207.8) scale(0.86,1)">H</text><text transform="translate(289.1,178.6) scale(0.86,1)">R</text><text transform="translate(295.1,155.2) scale(0.86,1)">A</text><text transform="translate(315.0,168.0) scale(0.86,1)">R</text><text transform="translate(322.7,153.6) scale(0.86,1)">R</text><text transform="translate(337.7,209.6) scale(0.86,1)">B</text><text transform="translate(348.0,161.0) scale(0.86,1)">R</text><text transform="translate(356.4,204.3) scale(0.86,1)">R</text><text transform="translate(369.2,212.9) scale(0.86,1)">Ba</text><text transform="translate(389.0,198.0) scale(0.86,1)">A</text><text transform="translate(400.3,213.6) scale(0.86,1)">Ba</text><text transform="translate(405.9,203.6) scale(0.86,1)">R</text><text transform="translate(418.3,197.2) scale(0.86,1)">H</text><text transform="translate(427.6,209.6) scale(0.86,1)">R</text><text transform="translate(437.0,215.9) scale(0.86,1)">R</text><text transform="translate(447.5,212.9) scale(0.86,1)">D</text><text transform="translate(459.2,203.1) scale(0.86,1)">H</text><text transform="translate(479.0,209.6) scale(0.86,1)">R</text><text transform="translate(494.8,210.8) scale(0.86,1)">R</text><text transform="translate(501.4,201.9) scale(0.86,1)">A</text><text transform="translate(509.1,200.2) scale(0.86,1)">D</text><text transform="translate(519.6,204.9) scale(0.86,1)">R</text><text transform="translate(123.6,315.4) scale(0.86,1)">B</text><text transform="translate(164.3,320.0) scale(0.86,1)">R</text><text transform="translate(182.5,314.7) scale(0.86,1)">R</text><text transform="translate(191.2,271.0) scale(0.86,1)">R</text><text transform="translate(218.4,313.0) scale(0.86,1)">R</text><text transform="translate(228.1,303.3) scale(0.86,1)">R</text><text transform="translate(240.7,253.5) scale(0.86,1)">R</text><text transform="translate(250.1,293.0) scale(0.86,1)">D</text><text transform="translate(270.8,317.2) scale(0.86,1)">R</text><text transform="translate(289.5,291.4) scale(0.86,1)">R</text><text transform="translate(291.2,233.8) scale(0.86,1)">A</text><text transform="translate(316.0,254.2) scale(0.86,1)">R</text><text transform="translate(329.0,239.6) scale(0.86,1)">R</text><text transform="translate(338.4,318.2) scale(0.86,1)">B</text><text transform="translate(349.3,258.4) scale(0.86,1)">R</text><text transform="translate(360.2,294.0) scale(0.86,1)">R</text><text transform="translate(391.9,308.8) scale(0.86,1)">A</text><text transform="translate(402.6,323.3) scale(0.86,1)">R</text><text transform="translate(427.6,319.8) scale(0.86,1)">R</text><text transform="translate(441.2,318.6) scale(0.86,1)">R</text><text transform="translate(451.2,313.5) scale(0.86,1)">D</text><text transform="translate(458.7,324.7) scale(0.86,1)">R</text><text transform="translate(468.1,324.9) scale(0.86,1)">A</text><text transform="translate(479.5,320.6) scale(0.86,1)">R</text><text transform="translate(498.1,311.7) scale(0.86,1)">R</text><text transform="translate(504.4,301.8) scale(0.86,1)">A</text><text transform="translate(511.4,309.9) scale(0.86,1)">D</text><text transform="translate(520.7,304.8) scale(0.86,1)">R</text>
</g>
</svg>
</body></html>
